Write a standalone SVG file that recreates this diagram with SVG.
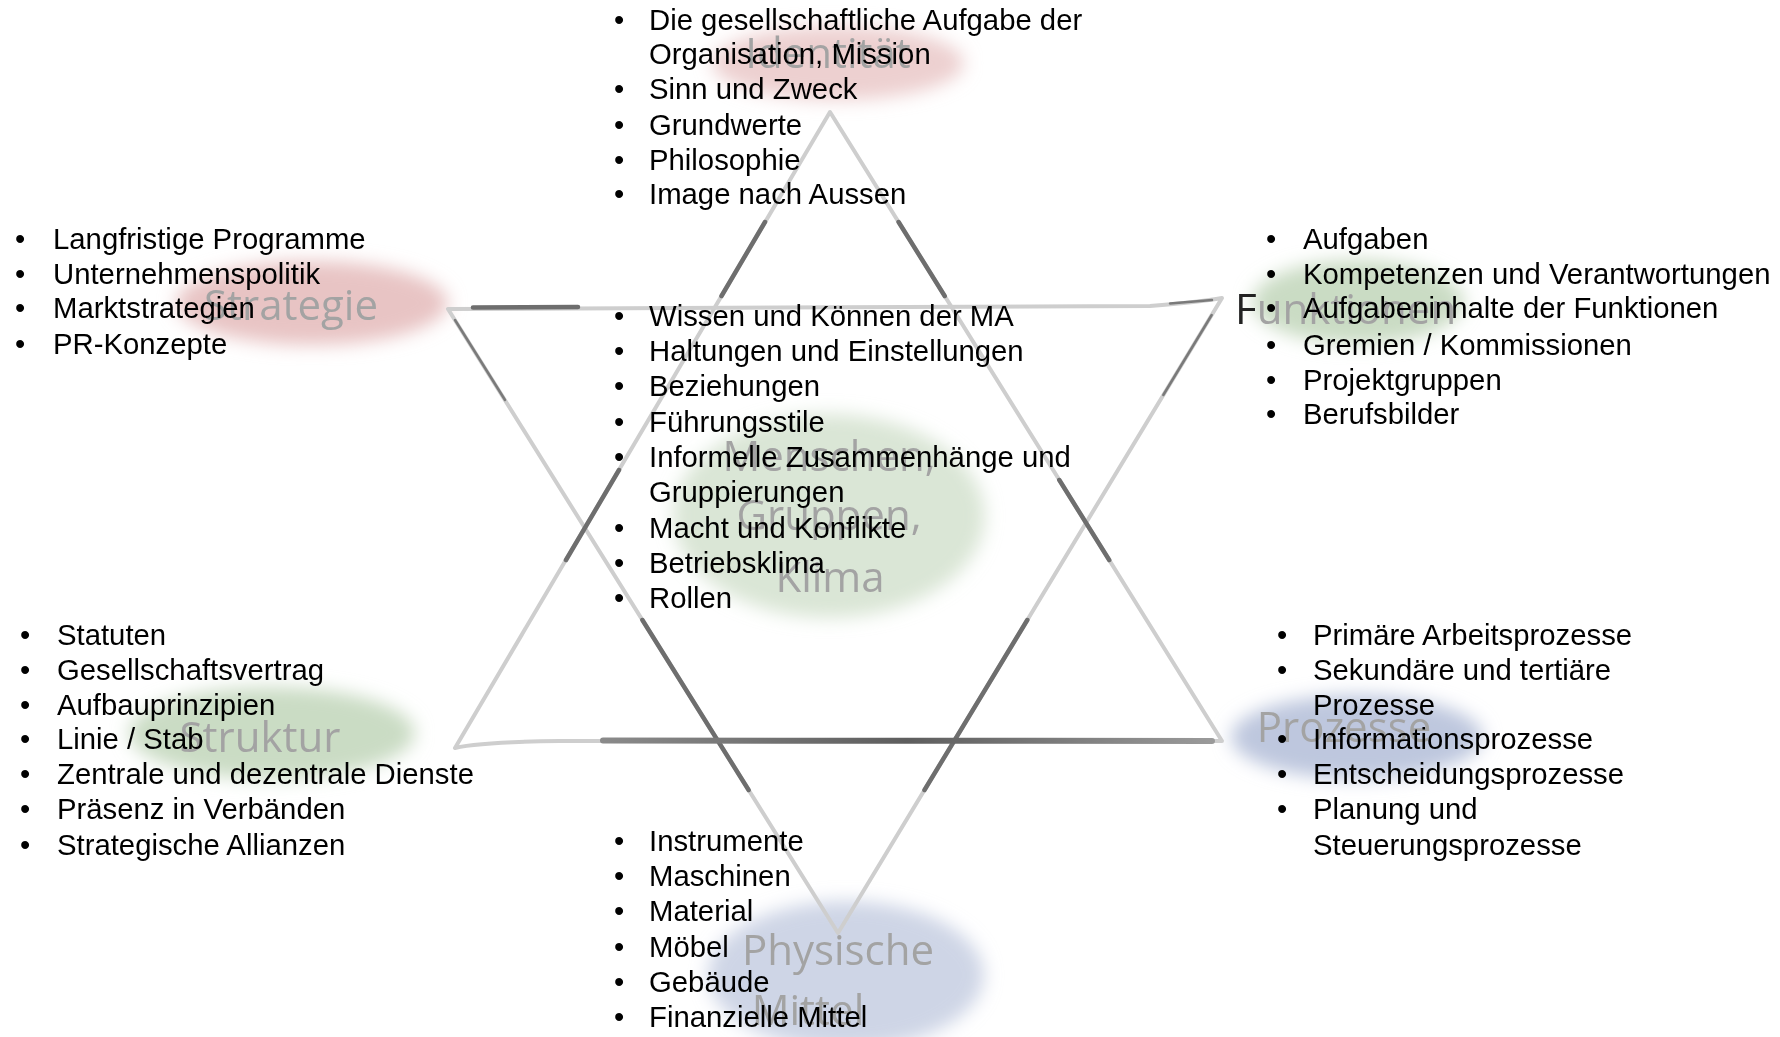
<svg xmlns="http://www.w3.org/2000/svg" width="1780" height="1037" viewBox="0 0 1780 1037">
<style>
.t{font-family:"Liberation Sans",Arial,sans-serif;font-size:29.3px;fill:#000}
.lbl{font-family:"Open Sans","Noto Sans",sans-serif;font-size:42px;fill:#a3a3a3}
.light{fill:none;stroke:#cecece;stroke-width:4;stroke-linecap:round;stroke-linejoin:round}
.dark{fill:none;stroke:#6e6e6e;stroke-width:4.5;stroke-linecap:round}
.thin{fill:none;stroke:#7a7a7a;stroke-width:2.5;stroke-linecap:round}
.pink{fill:#e8c4c4}
.green{fill:#cadcc4}
.blue{fill:#bec7de}
</style>
<defs>
<filter id="blur" x="-30%" y="-50%" width="160%" height="200%"><feGaussianBlur stdDeviation="9"/></filter>
<linearGradient id="bot" x1="0" x2="1" y1="0" y2="0">
<stop offset="0" stop-color="#8a8a8a"/><stop offset="0.5" stop-color="#5e5e5e"/><stop offset="1" stop-color="#9a9a9a"/>
</linearGradient>
</defs>
<rect width="1780" height="1037" fill="#fff"/>

<g id="blobs" filter="url(#blur)">
<ellipse class="pink" cx="838" cy="63" rx="126" ry="37" opacity="0.8"/>
<ellipse class="pink" cx="312" cy="303" rx="136" ry="42"/>
<ellipse class="green" cx="1358" cy="302" rx="106" ry="42"/>
<ellipse class="green" cx="829" cy="516" rx="156" ry="102" opacity="0.7"/>
<ellipse class="green" cx="272" cy="733" rx="143" ry="46"/>
<ellipse class="blue" cx="1357" cy="737" rx="126" ry="42"/>
<ellipse class="blue" cx="846" cy="975" rx="138" ry="74" opacity="0.75"/>
</g>

<g id="labels">
<text class="lbl" x="828" y="68" text-anchor="middle" font-size="48">Identität</text>
<text class="lbl" x="291" y="320" text-anchor="middle">Strategie</text>
<text class="lbl" x="1235" y="324"><tspan fill="#222">F</tspan>unktionen</text>
<text class="lbl" x="829" y="471" text-anchor="middle">Menschen,</text>
<text class="lbl" x="829" y="530" text-anchor="middle">Gruppen,</text>
<text class="lbl" x="830" y="592" text-anchor="middle">Klima</text>
<text class="lbl" x="260" y="752" text-anchor="middle">Struktur</text>
<text class="lbl" x="1344" y="742" text-anchor="middle">Prozesse</text>
<text class="lbl" x="838" y="965" text-anchor="middle">Physische</text>
<text class="lbl" x="808" y="1025" text-anchor="middle">Mittel</text>
</g>

<g id="connectors">
<path class="light" d="M830,112 L455,748 Q480,742 560,741 L1222,741 Z"/>
<path class="light" d="M448,309 L1150,306 Q1200,302 1222,298 L838,933 Z"/>
<path class="dark" d="M473,307.6 L578,306.9" stroke-width="6"/>
<path class="thin" d="M1170,303.5 L1212,300"/>
<path class="dark" d="M765,222 L721.5,296"/>
<path class="dark" d="M898.6,222 L944.7,296"/>
<path class="dark" d="M619,470 L566,560" stroke="#888"/>
<path class="thin" d="M455,320 L505,400"/>
<path class="dark" d="M642.4,620 L748.6,790"/>
<path class="thin" d="M1211.7,315 L1163.3,395"/>
<path class="dark" d="M1027.3,620 L924.5,790"/>
<path class="dark" d="M1059.3,480 L1109.2,560" stroke="#999"/>
<path d="M603,740.5 L1212,741" fill="none" stroke="url(#bot)" stroke-width="6" stroke-linecap="round"/>
</g>

<g id="identitaet" class="t">
<text><tspan x="614" y="30">•</tspan><tspan x="649">Die gesellschaftliche Aufgabe der</tspan></text>
<text x="649" y="64">Organisation, Mission</text>
<text><tspan x="614" y="99">•</tspan><tspan x="649">Sinn und Zweck</tspan></text>
<text><tspan x="614" y="135">•</tspan><tspan x="649">Grundwerte</tspan></text>
<text><tspan x="614" y="170">•</tspan><tspan x="649">Philosophie</tspan></text>
<text><tspan x="614" y="204">•</tspan><tspan x="649">Image nach Aussen</tspan></text>
</g>

<g id="strategie" class="t">
<text><tspan x="15" y="249">•</tspan><tspan x="53">Langfristige Programme</tspan></text>
<text><tspan x="15" y="284">•</tspan><tspan x="53">Unternehmenspolitik</tspan></text>
<text><tspan x="15" y="318">•</tspan><tspan x="53">Marktstrategien</tspan></text>
<text><tspan x="15" y="354">•</tspan><tspan x="53">PR-Konzepte</tspan></text>
</g>

<g id="funktionen" class="t">
<text><tspan x="1266" y="249">•</tspan><tspan x="1303">Aufgaben</tspan></text>
<text><tspan x="1266" y="284">•</tspan><tspan x="1303">Kompetenzen und Verantwortungen</tspan></text>
<text><tspan x="1266" y="318">•</tspan><tspan x="1303">Aufgabeninhalte der Funktionen</tspan></text>
<text><tspan x="1266" y="355">•</tspan><tspan x="1303">Gremien / Kommissionen</tspan></text>
<text><tspan x="1266" y="390">•</tspan><tspan x="1303">Projektgruppen</tspan></text>
<text><tspan x="1266" y="424">•</tspan><tspan x="1303">Berufsbilder</tspan></text>
</g>

<g id="menschen" class="t">
<text><tspan x="614" y="326">•</tspan><tspan x="649">Wissen und Können der MA</tspan></text>
<text><tspan x="614" y="361">•</tspan><tspan x="649">Haltungen und Einstellungen</tspan></text>
<text><tspan x="614" y="396">•</tspan><tspan x="649">Beziehungen</tspan></text>
<text><tspan x="614" y="432">•</tspan><tspan x="649">Führungsstile</tspan></text>
<text><tspan x="614" y="467">•</tspan><tspan x="649">Informelle Zusammenhänge und</tspan></text>
<text x="649" y="502">Gruppierungen</text>
<text><tspan x="614" y="538">•</tspan><tspan x="649">Macht und Konflikte</tspan></text>
<text><tspan x="614" y="573">•</tspan><tspan x="649">Betriebsklima</tspan></text>
<text><tspan x="614" y="608">•</tspan><tspan x="649">Rollen</tspan></text>
</g>

<g id="struktur" class="t">
<text><tspan x="20" y="645">•</tspan><tspan x="57">Statuten</tspan></text>
<text><tspan x="20" y="680">•</tspan><tspan x="57">Gesellschaftsvertrag</tspan></text>
<text><tspan x="20" y="715">•</tspan><tspan x="57">Aufbauprinzipien</tspan></text>
<text><tspan x="20" y="749">•</tspan><tspan x="57">Linie / Stab</tspan></text>
<text><tspan x="20" y="784">•</tspan><tspan x="57">Zentrale und dezentrale Dienste</tspan></text>
<text><tspan x="20" y="819">•</tspan><tspan x="57">Präsenz in Verbänden</tspan></text>
<text><tspan x="20" y="855">•</tspan><tspan x="57">Strategische Allianzen</tspan></text>
</g>

<g id="prozesse" class="t">
<text><tspan x="1277" y="645">•</tspan><tspan x="1313">Primäre Arbeitsprozesse</tspan></text>
<text><tspan x="1277" y="680">•</tspan><tspan x="1313">Sekundäre und tertiäre</tspan></text>
<text x="1313" y="715">Prozesse</text>
<text><tspan x="1277" y="749">•</tspan><tspan x="1313">Informationsprozesse</tspan></text>
<text><tspan x="1277" y="784">•</tspan><tspan x="1313">Entscheidungsprozesse</tspan></text>
<text><tspan x="1277" y="819">•</tspan><tspan x="1313">Planung und</tspan></text>
<text x="1313" y="855">Steuerungsprozesse</text>
</g>

<g id="physische-mittel" class="t">
<text><tspan x="614" y="851">•</tspan><tspan x="649">Instrumente</tspan></text>
<text><tspan x="614" y="886">•</tspan><tspan x="649">Maschinen</tspan></text>
<text><tspan x="614" y="921">•</tspan><tspan x="649">Material</tspan></text>
<text><tspan x="614" y="957">•</tspan><tspan x="649">Möbel</tspan></text>
<text><tspan x="614" y="992">•</tspan><tspan x="649">Gebäude</tspan></text>
<text><tspan x="614" y="1027">•</tspan><tspan x="649">Finanzielle Mittel</tspan></text>
</g>
</svg>
